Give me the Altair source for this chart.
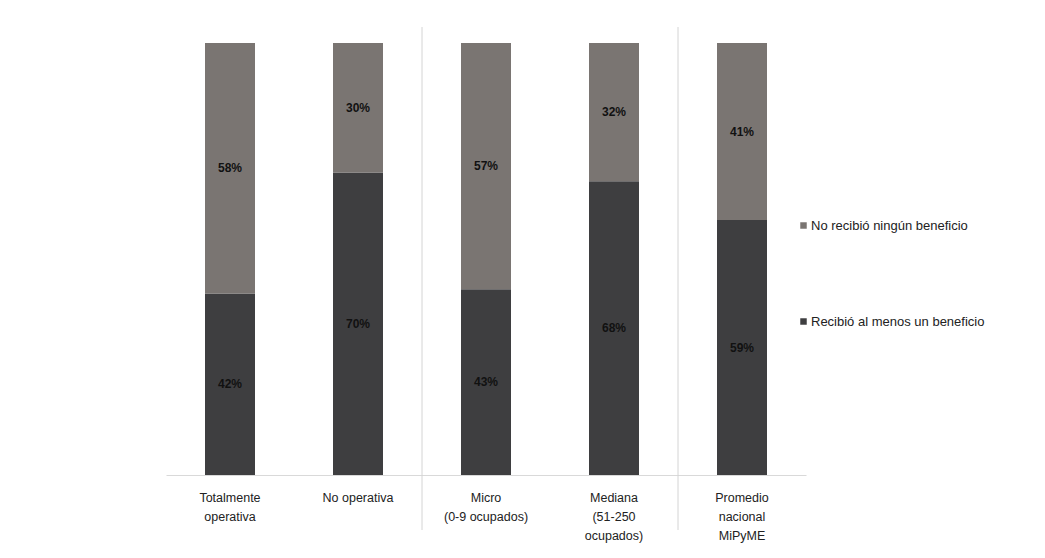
import altair as alt
import pandas as pd

categories = ["Totalmente|operativa", "No operativa", "Micro|(0-9 ocupados)",
              "Mediana|(51-250|ocupados)", "Promedio|nacional|MiPyME"]
recibio = [42, 70, 43, 68, 59]
no_recibio = [58, 30, 57, 32, 41]
series = ["No recibió ningún beneficio", "Recibió al menos un beneficio"]
colors = ["#7a7572", "#3e3e40"]
separators_before = ["Micro|(0-9 ocupados)", "Promedio|nacional|MiPyME"]

rows = []
for c, r, n in zip(categories, recibio, no_recibio):
    rows.append({"cat": c, "serie": series[1], "value": r, "ord": 0})
    rows.append({"cat": c, "serie": series[0], "value": n, "ord": 1})
df = pd.DataFrame(rows)
sep_df = pd.DataFrame({"cat": separators_before})

FONT = "Liberation Sans Narrow, Liberation Sans, Arial Narrow, sans-serif"

x_enc = alt.X("cat:N", sort=categories, title=None,
              scale=alt.Scale(paddingInner=0, paddingOuter=0),
              axis=alt.Axis(labelExpr="split(datum.label, '|')", labelAngle=0,
                            labelAlign="center",
                            labelFont=FONT, labelFontSize=12.5, labelColor="#222222",
                            labelLineHeight=19, labelPadding=16, ticks=False,
                            domainColor="#d9d9d9", domainWidth=1, labelBaseline="top"))

bars = alt.Chart(df).mark_bar(size=50).encode(
    x=x_enc,
    y=alt.Y("value:Q", stack="zero", scale=alt.Scale(domain=[0, 100], nice=False), axis=None),
    color=alt.Color("serie:N", sort=series,
                    scale=alt.Scale(domain=series, range=colors),
                    legend=alt.Legend(title=None, orient="none", legendX=631, legendY=176,
                                      symbolType="square", symbolSize=42, symbolStrokeWidth=0,
                                      labelOffset=1,
                                      labelFont=FONT, labelFontSize=13, labelColor="#222222",
                                      rowPadding=82, labelLimit=400)),
    order=alt.Order("ord:Q"),
)

texts = alt.Chart(df).transform_stack(
    stack="value", groupby=["cat"], as_=["y0", "y1"], sort=[alt.SortField("ord")]
).transform_calculate(
    mid="(datum.y0 + datum.y1) / 2",
    lab="datum.value + '%'"
).mark_text(font=FONT, fontSize=12, fontWeight="bold", color="#111111").encode(
    x=alt.X("cat:N", sort=categories),
    y=alt.Y("mid:Q", scale=alt.Scale(domain=[0, 100], nice=False)),
    text="lab:N",
)

seps = alt.Chart(sep_df).mark_rule(color="#d4d4d4", strokeWidth=1).encode(
    x=alt.X("cat:N", sort=categories, bandPosition=0),
    y=alt.value(-16),
    y2=alt.value(487),
)

chart = alt.layer(seps, bars, texts).properties(
    width=640, height=432,
    background="white",
    autosize=alt.AutoSizeParams(type="none"),
    padding={"left": 166, "top": 43, "right": 239, "bottom": 83},
).configure_view(strokeWidth=0, stroke=None)

chart.save("out.html", embed_options={"renderer": "svg", "actions": False})
